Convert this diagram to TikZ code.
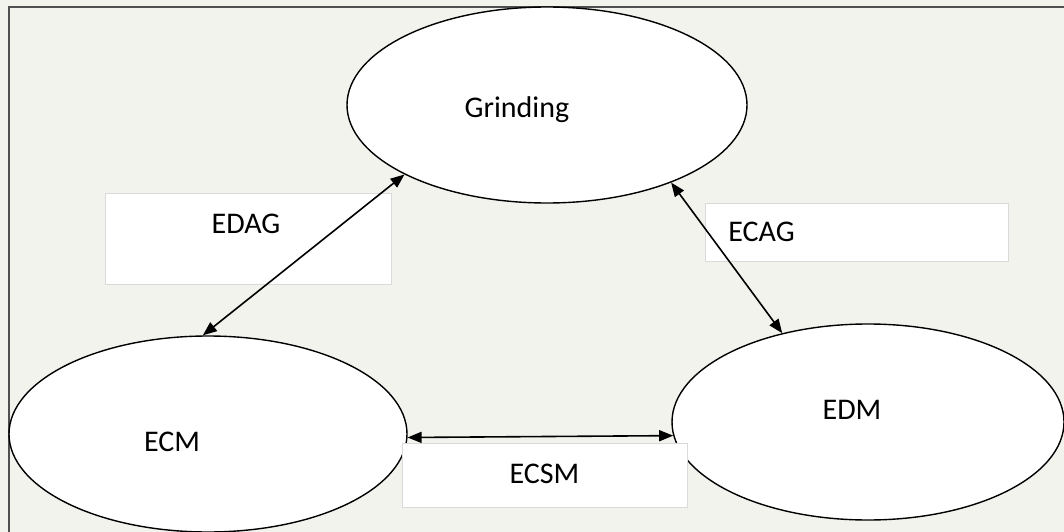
\documentclass[tikz,border=0pt]{standalone}
\usepackage{fontspec}
\setmainfont{Carlito}
\usepackage{xcolor}
\usepackage{tikz}
\usetikzlibrary{arrows.meta,shapes.geometric}
\definecolor{fundo}{RGB}{243,243,238}
\definecolor{moldura}{RGB}{80,80,80}
\definecolor{bordaCaixa}{RGB}{218,218,218}
\tikzset{
    processo/.style={
        ellipse,
        draw,
        line width=1.4pt,
        fill=white,
        minimum width=398pt,
        minimum height=196pt,
        inner sep=0pt
    },
    caixa/.style={
        rectangle,
        draw=bordaCaixa,
        line width=1pt,
        fill=white,
        inner sep=0pt
    },
    texto/.style={font=\fontsize{30}{36}\selectfont, inner sep=0pt},
    fluxo/.style={{Triangle[length=14pt,width=11pt]}-{Triangle[length=14pt,width=11pt]}, line width=1.6pt}
}

\begin{document}
\begin{tikzpicture}[x=1pt, y=-1pt]
        \useasboundingbox[fill=fundo] (0,0) rectangle (1064,532);
        \draw[moldura, line width=1.3pt] (9,7) rectangle (1090,560);

        \node[processo, minimum width=400pt, label={[texto, shift={(-30,5)}]center:Grinding}] (grinding) at (547,105) {};
        \node[processo, label={[texto, shift={(-36,8)}]center:ECM}] (ecm) at (208,434) {};
        \node[processo, minimum width=392pt, label={[texto, shift={(-16,-12)}]center:EDM}] (edm) at (868,422) {};

        \node[caixa, minimum width=286pt, minimum height=91pt, label={[texto, shift={(-2,-15)}]center:EDAG}] (edag) at (248,238.5) {};
        \node[caixa, minimum width=303pt, minimum height=58pt, label={[texto, shift={(-95,0)}]center:ECAG}] (ecag) at (856.5,232) {};
        \node[caixa, minimum width=285pt, minimum height=64pt, label={[texto, shift={(0,-1)}]center:ECSM}] (ecsm) at (544.5,475) {};

        \draw[fluxo] (ecm.93) -- (grinding.206);
        \draw[fluxo] (edm.134) -- (grinding.328);
        \draw[fluxo] (ecm.-1) -- (edm.184);
    \end{tikzpicture}
\end{document}
